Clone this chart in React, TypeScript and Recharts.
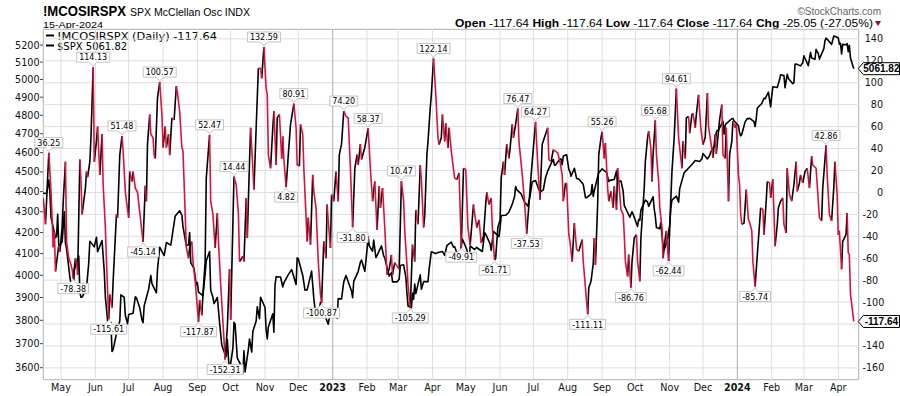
import React from "react";
import {
  ComposedChart,
  Line,
  XAxis,
  YAxis,
  CartesianGrid,
  ReferenceLine,
  ReferenceDot,
} from "recharts";

// McClellan oscillator readings
const osc: [string, number][] = [
  ["2022-04-15", -5], ["2022-04-17", -29], ["2022-04-20", 36.25], ["2022-04-22", 0],
  ["2022-04-24", -50], ["2022-04-25", -36], ["2022-04-26", -72], ["2022-04-29", -48],
  ["2022-04-30", -54], ["2022-05-02", -32], ["2022-05-03", -8], ["2022-05-05", 28],
  ["2022-05-06", -45], ["2022-05-08", -60], ["2022-05-10", -66], ["2022-05-11", -70],
  ["2022-05-12", -78.38], ["2022-05-14", -60], ["2022-05-15", -63], ["2022-05-16", -75],
  ["2022-05-18", 30], ["2022-05-19", 10], ["2022-05-20", -20], ["2022-05-23", 4],
  ["2022-05-24", 19], ["2022-05-25", 14], ["2022-05-27", 28], ["2022-05-28", 50],
  ["2022-05-30", 114.13], ["2022-05-31", 28], ["2022-06-02", 47], ["2022-06-03", 60],
  ["2022-06-05", 16], ["2022-06-06", 34], ["2022-06-07", 53], ["2022-06-08", 7],
  ["2022-06-10", -32], ["2022-06-11", -63], ["2022-06-13", -115.61], ["2022-06-14", -93],
  ["2022-06-16", -105], ["2022-06-17", -81], ["2022-06-20", -20], ["2022-06-21", -23],
  ["2022-06-23", 34], ["2022-06-25", 51.48], ["2022-06-26", 38], ["2022-06-28", 1],
  ["2022-06-29", -8], ["2022-07-01", -23], ["2022-07-02", 19], ["2022-07-04", 10],
  ["2022-07-05", 19], ["2022-07-07", 4], ["2022-07-09", 0], ["2022-07-14", -45.14],
  ["2022-07-16", 6], ["2022-07-17", -8], ["2022-07-18", 44], ["2022-07-20", 71],
  ["2022-07-21", 53], ["2022-07-23", 50], ["2022-07-24", 34], ["2022-07-25", 31],
  ["2022-07-27", 86], ["2022-07-29", 100.57], ["2022-07-31", 71], ["2022-08-01", 41],
  ["2022-08-03", 60], ["2022-08-04", 41], ["2022-08-06", 53], ["2022-08-07", 34],
  ["2022-08-09", 68], ["2022-08-11", 66], ["2022-08-13", 97], ["2022-08-14", 91],
  ["2022-08-16", 74], ["2022-08-18", 41], ["2022-08-19", 38], ["2022-08-21", -20],
  ["2022-08-22", -50], ["2022-08-24", -60], ["2022-08-25", -50], ["2022-08-27", -45],
  ["2022-08-28", -63], ["2022-08-30", -81], ["2022-08-31", -93], ["2022-09-02", -117.87],
  ["2022-09-03", -98], ["2022-09-05", -112], ["2022-09-06", -93], ["2022-09-08", -63],
  ["2022-09-09", 13], ["2022-09-12", 52.47], ["2022-09-13", -8], ["2022-09-15", -20],
  ["2022-09-17", -50.6], ["2022-09-19", -19], ["2022-09-20", -44.6], ["2022-09-22", -84],
  ["2022-09-24", -117.5], ["2022-09-26", -152.31], ["2022-09-28", -123], ["2022-09-30", -70],
  ["2022-10-01", -116], ["2022-10-04", 14.44], ["2022-10-06", 7], ["2022-10-08", -20],
  ["2022-10-09", -63], ["2022-10-11", -60], ["2022-10-12", -58], ["2022-10-13", -63],
  ["2022-10-15", -5], ["2022-10-16", -41.5], ["2022-10-18", 28], ["2022-10-19", 59],
  ["2022-10-21", 22], ["2022-10-22", 2.6], ["2022-10-24", 59], ["2022-10-26", 113.5],
  ["2022-10-28", 113], ["2022-10-29", 104], ["2022-10-31", 132.59], ["2022-11-02", 95],
  ["2022-11-03", 89], ["2022-11-04", 34.5], ["2022-11-06", 22], ["2022-11-08", 59],
  ["2022-11-09", 74], ["2022-11-11", 25], ["2022-11-12", 68], ["2022-11-14", 71],
  ["2022-11-16", 31], ["2022-11-17", 51], ["2022-11-18", 30], ["2022-11-20", 4.82],
  ["2022-11-22", 34.5], ["2022-11-24", 62], ["2022-11-27", 80.91], ["2022-11-29", 59],
  ["2022-11-30", 25], ["2022-12-02", 24], ["2022-12-03", 62], ["2022-12-05", 53],
  ["2022-12-06", 22], ["2022-12-09", -44.6], ["2022-12-10", -23], ["2022-12-12", -47.6],
  ["2022-12-14", 16], ["2022-12-15", 1], ["2022-12-17", -14], ["2022-12-19", -63],
  ["2022-12-21", -93], ["2022-12-22", -100.87], ["2022-12-24", -44.6], ["2022-12-26", -60],
  ["2022-12-27", -11], ["2022-12-28", -26], ["2022-12-30", -50.6], ["2022-12-31", -2],
  ["2023-01-02", -8], ["2023-01-04", 19], ["2023-01-06", -8], ["2023-01-07", 34.5],
  ["2023-01-09", 44], ["2023-01-11", 74.2], ["2023-01-13", 69.4], ["2023-01-15", 68],
  ["2023-01-17", 22], ["2023-01-19", -31.8], ["2023-01-21", 22], ["2023-01-23", 34.5],
  ["2023-01-24", 25], ["2023-01-26", 44], ["2023-01-27", 30], ["2023-01-30", 41],
  ["2023-02-02", 58.37], ["2023-02-04", 22], ["2023-02-06", -8], ["2023-02-08", 10],
  ["2023-02-10", -34], ["2023-02-12", 5.6], ["2023-02-13", -14], ["2023-02-15", 4],
  ["2023-02-17", -32], ["2023-02-19", -75], ["2023-02-21", -70], ["2023-02-23", -57],
  ["2023-02-24", -75], ["2023-02-26", -64], ["2023-02-28", -67], ["2023-03-02", -70],
  ["2023-03-04", 10.47], ["2023-03-06", -8], ["2023-03-07", -35], ["2023-03-09", -66],
  ["2023-03-10", -85], ["2023-03-12", -105.29], ["2023-03-14", -47.6], ["2023-03-16", -63],
  ["2023-03-17", -16], ["2023-03-19", -29], ["2023-03-21", 25], ["2023-03-22", 11.7],
  ["2023-03-24", -32], ["2023-03-25", -22], ["2023-03-27", 34.5], ["2023-03-28", 46.6],
  ["2023-03-30", 77], ["2023-03-31", 89], ["2023-04-02", 122.14], ["2023-04-04", 89],
  ["2023-04-06", 49.7], ["2023-04-07", 43.6], ["2023-04-09", 50], ["2023-04-10", 71],
  ["2023-04-12", 46.6], ["2023-04-13", 63], ["2023-04-15", 40.6], ["2023-04-16", 59],
  ["2023-04-18", 37.5], ["2023-04-21", 13], ["2023-04-23", 11.7], ["2023-04-25", 17.8],
  ["2023-04-27", -49.91], ["2023-04-29", 22], ["2023-05-01", 21], ["2023-05-03", -32],
  ["2023-05-05", -48], ["2023-05-08", -11], ["2023-05-09", -19], ["2023-05-11", -32],
  ["2023-05-13", -25], ["2023-05-15", -46], ["2023-05-17", -40], ["2023-05-19", -11],
  ["2023-05-20", 0], ["2023-05-22", -11], ["2023-05-24", -5], ["2023-05-25", -32],
  ["2023-05-27", -61.71], ["2023-05-28", -60], ["2023-05-30", -32], ["2023-06-01", -25],
  ["2023-06-02", 13], ["2023-06-04", 28], ["2023-06-05", 16], ["2023-06-07", 44],
  ["2023-06-09", 31], ["2023-06-10", 40], ["2023-06-12", 62], ["2023-06-13", 50],
  ["2023-06-15", 62], ["2023-06-17", 76.47], ["2023-06-18", 46.6], ["2023-06-21", 16],
  ["2023-06-22", 4], ["2023-06-23", -8], ["2023-06-25", -37.53], ["2023-06-27", -11],
  ["2023-06-29", 16], ["2023-07-03", 64.27], ["2023-07-05", 25], ["2023-07-07", -6.6],
  ["2023-07-09", 44], ["2023-07-11", 50], ["2023-07-14", 59], ["2023-07-15", 30],
  ["2023-07-17", 28], ["2023-07-19", 39], ["2023-07-21", 37.5], ["2023-07-23", 36],
  ["2023-07-25", 28], ["2023-07-27", 16], ["2023-07-28", -8], ["2023-07-30", 8.6],
  ["2023-07-31", 8], ["2023-08-02", -38.5], ["2023-08-03", -44.6], ["2023-08-05", -63],
  ["2023-08-07", -28], ["2023-08-09", -52], ["2023-08-11", -53.7], ["2023-08-14", -43],
  ["2023-08-15", -63], ["2023-08-17", -87], ["2023-08-19", -111.11], ["2023-08-20", -87],
  ["2023-08-22", -81], ["2023-08-24", -65], ["2023-08-25", -41.5], ["2023-08-26", -66],
  ["2023-08-28", -11], ["2023-08-29", 34.5], ["2023-08-31", 49.7], ["2023-09-01", 55.26],
  ["2023-09-03", 31], ["2023-09-04", 45], ["2023-09-06", 4], ["2023-09-07", -8],
  ["2023-09-09", 1], ["2023-09-11", -14], ["2023-09-12", 5.6], ["2023-09-14", -15.7],
  ["2023-09-15", 22], ["2023-09-16", 11.7], ["2023-09-18", -15.7], ["2023-09-20", -20],
  ["2023-09-21", -38.5], ["2023-09-22", -63], ["2023-09-24", -76.5], ["2023-09-25", -56.7],
  ["2023-09-27", -86.76], ["2023-09-28", -63], ["2023-09-30", -41.5], ["2023-10-02", -38.5],
  ["2023-10-03", -63], ["2023-10-05", -81], ["2023-10-06", -41.5], ["2023-10-09", 4],
  ["2023-10-10", 28], ["2023-10-12", 49.7], ["2023-10-13", 55.8], ["2023-10-15", 40.6],
  ["2023-10-16", 10], ["2023-10-17", 34.5], ["2023-10-19", 65.68], ["2023-10-20", 34.5],
  ["2023-10-22", 10], ["2023-10-23", -14], ["2023-10-25", -32], ["2023-10-26", -60],
  ["2023-10-28", -41.5], ["2023-10-29", -35], ["2023-10-30", -50.6], ["2023-10-31", -62.44],
  ["2023-11-01", -32], ["2023-11-03", 19], ["2023-11-05", 49.7], ["2023-11-07", 94.61],
  ["2023-11-09", 49.7], ["2023-11-10", 40.6], ["2023-11-12", 22], ["2023-11-13", 46.6],
  ["2023-11-15", 31], ["2023-11-16", 68], ["2023-11-18", 69.4], ["2023-11-19", 54],
  ["2023-11-21", 71], ["2023-11-22", 72], ["2023-11-24", 59], ["2023-11-25", 71],
  ["2023-11-27", 89], ["2023-11-29", 59], ["2023-12-01", 43.6], ["2023-12-03", 50],
  ["2023-12-05", 90.7], ["2023-12-06", 60], ["2023-12-08", 46.6], ["2023-12-10", 31.4],
  ["2023-12-12", 53], ["2023-12-13", 35], ["2023-12-16", 66.4], ["2023-12-18", 80],
  ["2023-12-19", 34.5], ["2023-12-21", 31], ["2023-12-22", 59], ["2023-12-24", -8],
  ["2023-12-25", 34.5], ["2023-12-27", 46.6], ["2023-12-28", 65], ["2023-12-30", 59],
  ["2023-12-31", 62], ["2024-01-02", 16], ["2024-01-03", 7], ["2024-01-04", -20],
  ["2024-01-05", -29], ["2024-01-07", -28], ["2024-01-09", 2.6], ["2024-01-11", -25],
  ["2024-01-12", -27], ["2024-01-14", -35], ["2024-01-15", -63], ["2024-01-17", -85.74],
  ["2024-01-19", -56.7], ["2024-01-21", -29], ["2024-01-22", -14], ["2024-01-24", -15.7],
  ["2024-01-25", -38.5], ["2024-01-27", -8], ["2024-01-28", 10], ["2024-01-30", 8.6],
  ["2024-01-31", -5], ["2024-02-02", 12], ["2024-02-04", -49], ["2024-02-06", -29],
  ["2024-02-07", -14], ["2024-02-09", -8], ["2024-02-11", -5], ["2024-02-12", -29],
  ["2024-02-14", -37], ["2024-02-15", 22], ["2024-02-17", -2], ["2024-02-19", -8],
  ["2024-02-21", 7], ["2024-02-23", 28], ["2024-02-24", 1], ["2024-02-26", 8.6],
  ["2024-02-27", 16], ["2024-02-29", 8.6], ["2024-03-02", 19], ["2024-03-04", 22],
  ["2024-03-06", 4], ["2024-03-08", 33], ["2024-03-09", 25], ["2024-03-12", 22],
  ["2024-03-13", 7], ["2024-03-15", -23], ["2024-03-17", -26], ["2024-03-18", 4],
  ["2024-03-21", 42.86], ["2024-03-22", 16], ["2024-03-24", -20], ["2024-03-26", -26],
  ["2024-03-28", 5], ["2024-03-29", 28], ["2024-03-31", -2], ["2024-04-01", -38.5],
  ["2024-04-02", -35], ["2024-04-04", -70], ["2024-04-05", -44.6], ["2024-04-08", -38.5],
  ["2024-04-09", -18.7], ["2024-04-10", -55], ["2024-04-11", -57], ["2024-04-12", -92.59],
  ["2024-04-15", -117.64],
];

// $SPX closes
const spx: [string, number][] = [
  ["2022-04-14", 4392], ["2022-04-18", 4391], ["2022-04-20", 4459], ["2022-04-21", 4393],
  ["2022-04-22", 4272], ["2022-04-26", 4175], ["2022-04-27", 4183], ["2022-04-28", 4288],
  ["2022-04-29", 4132], ["2022-05-02", 4155], ["2022-05-04", 4300], ["2022-05-05", 4147],
  ["2022-05-06", 4123], ["2022-05-09", 3991], ["2022-05-11", 3935], ["2022-05-12", 3930],
  ["2022-05-13", 4024], ["2022-05-17", 4089], ["2022-05-18", 3923], ["2022-05-19", 3901],
  ["2022-05-20", 3901], ["2022-05-24", 3941], ["2022-05-26", 4057], ["2022-05-27", 4158],
  ["2022-05-31", 4132], ["2022-06-02", 4177], ["2022-06-03", 4109], ["2022-06-07", 4161],
  ["2022-06-09", 4018], ["2022-06-10", 3901], ["2022-06-13", 3750], ["2022-06-15", 3790],
  ["2022-06-16", 3667], ["2022-06-17", 3675], ["2022-06-21", 3765], ["2022-06-23", 3796],
  ["2022-06-24", 3912], ["2022-06-27", 3900], ["2022-06-28", 3822], ["2022-06-30", 3785],
  ["2022-07-01", 3825], ["2022-07-05", 3831], ["2022-07-07", 3903], ["2022-07-08", 3899],
  ["2022-07-11", 3855], ["2022-07-13", 3801], ["2022-07-14", 3790], ["2022-07-15", 3863],
  ["2022-07-19", 3937], ["2022-07-21", 3999], ["2022-07-22", 3962], ["2022-07-26", 3921],
  ["2022-07-27", 4024], ["2022-07-29", 4130], ["2022-08-02", 4091], ["2022-08-04", 4152],
  ["2022-08-08", 4140], ["2022-08-10", 4210], ["2022-08-12", 4280], ["2022-08-16", 4305],
  ["2022-08-18", 4284], ["2022-08-19", 4228], ["2022-08-22", 4138], ["2022-08-24", 4141],
  ["2022-08-25", 4199], ["2022-08-26", 4058], ["2022-08-29", 4031], ["2022-08-31", 3955],
  ["2022-09-01", 3967], ["2022-09-02", 3924], ["2022-09-06", 3908], ["2022-09-08", 4006],
  ["2022-09-09", 4067], ["2022-09-12", 4110], ["2022-09-13", 3932], ["2022-09-15", 3901],
  ["2022-09-16", 3873], ["2022-09-19", 3900], ["2022-09-21", 3790], ["2022-09-23", 3693],
  ["2022-09-26", 3655], ["2022-09-27", 3647], ["2022-09-28", 3719], ["2022-09-29", 3640],
  ["2022-09-30", 3586], ["2022-10-03", 3679], ["2022-10-04", 3791], ["2022-10-05", 3783],
  ["2022-10-07", 3640], ["2022-10-10", 3613], ["2022-10-12", 3577], ["2022-10-13", 3670],
  ["2022-10-14", 3583], ["2022-10-17", 3677], ["2022-10-18", 3720], ["2022-10-20", 3665],
  ["2022-10-21", 3752], ["2022-10-24", 3797], ["2022-10-25", 3859], ["2022-10-27", 3807],
  ["2022-10-28", 3901], ["2022-11-01", 3856], ["2022-11-02", 3760], ["2022-11-03", 3720],
  ["2022-11-04", 3771], ["2022-11-08", 3828], ["2022-11-09", 3749], ["2022-11-10", 3956],
  ["2022-11-11", 3993], ["2022-11-15", 3992], ["2022-11-17", 3947], ["2022-11-18", 3965],
  ["2022-11-22", 4003], ["2022-11-25", 4026], ["2022-11-29", 3958], ["2022-11-30", 4080],
  ["2022-12-01", 4076], ["2022-12-05", 3999], ["2022-12-07", 3933], ["2022-12-09", 3934],
  ["2022-12-13", 4019], ["2022-12-15", 3896], ["2022-12-16", 3852], ["2022-12-19", 3817],
  ["2022-12-21", 3879], ["2022-12-22", 3822], ["2022-12-23", 3845], ["2022-12-28", 3783],
  ["2022-12-30", 3840], ["2023-01-03", 3825], ["2023-01-05", 3808], ["2023-01-06", 3895],
  ["2023-01-09", 3893], ["2023-01-11", 3970], ["2023-01-13", 3999], ["2023-01-18", 3929],
  ["2023-01-19", 3899], ["2023-01-20", 3972], ["2023-01-24", 4017], ["2023-01-26", 4060],
  ["2023-01-27", 4070], ["2023-01-30", 4018], ["2023-02-01", 4119], ["2023-02-02", 4180],
  ["2023-02-03", 4136], ["2023-02-06", 4111], ["2023-02-07", 4164], ["2023-02-09", 4082],
  ["2023-02-10", 4090], ["2023-02-14", 4136], ["2023-02-16", 4090], ["2023-02-17", 4079],
  ["2023-02-21", 3997], ["2023-02-23", 4012], ["2023-02-24", 3970], ["2023-02-28", 3970],
  ["2023-03-02", 3982], ["2023-03-03", 4045], ["2023-03-06", 4048], ["2023-03-08", 3992],
  ["2023-03-09", 3919], ["2023-03-10", 3862], ["2023-03-13", 3855], ["2023-03-14", 3920],
  ["2023-03-15", 3892], ["2023-03-16", 3960], ["2023-03-17", 3917], ["2023-03-21", 4002],
  ["2023-03-22", 3937], ["2023-03-24", 3971], ["2023-03-28", 3971], ["2023-03-29", 4028],
  ["2023-03-31", 4109], ["2023-04-04", 4100], ["2023-04-06", 4105], ["2023-04-10", 4110],
  ["2023-04-12", 4092], ["2023-04-14", 4137], ["2023-04-18", 4154], ["2023-04-20", 4130],
  ["2023-04-21", 4133], ["2023-04-25", 4072], ["2023-04-27", 4135], ["2023-04-28", 4169],
  ["2023-05-02", 4119], ["2023-05-04", 4061], ["2023-05-05", 4136], ["2023-05-09", 4119],
  ["2023-05-11", 4130], ["2023-05-12", 4124], ["2023-05-16", 4110], ["2023-05-18", 4198],
  ["2023-05-19", 4192], ["2023-05-23", 4146], ["2023-05-24", 4115], ["2023-05-26", 4205],
  ["2023-05-31", 4180], ["2023-06-01", 4221], ["2023-06-02", 4282], ["2023-06-06", 4283],
  ["2023-06-08", 4293], ["2023-06-09", 4299], ["2023-06-12", 4338], ["2023-06-14", 4373],
  ["2023-06-15", 4426], ["2023-06-16", 4410], ["2023-06-20", 4389], ["2023-06-23", 4348],
  ["2023-06-26", 4328], ["2023-06-28", 4376], ["2023-06-30", 4450], ["2023-07-03", 4456],
  ["2023-07-06", 4411], ["2023-07-07", 4398], ["2023-07-10", 4409], ["2023-07-12", 4472],
  ["2023-07-14", 4505], ["2023-07-18", 4555], ["2023-07-19", 4565], ["2023-07-20", 4535],
  ["2023-07-21", 4536], ["2023-07-25", 4567], ["2023-07-26", 4566], ["2023-07-27", 4537],
  ["2023-07-28", 4582], ["2023-07-31", 4589], ["2023-08-02", 4513], ["2023-08-03", 4502],
  ["2023-08-04", 4478], ["2023-08-07", 4519], ["2023-08-09", 4467], ["2023-08-11", 4464],
  ["2023-08-15", 4437], ["2023-08-17", 4370], ["2023-08-18", 4370], ["2023-08-22", 4388],
  ["2023-08-23", 4436], ["2023-08-24", 4376], ["2023-08-25", 4406], ["2023-08-29", 4497],
  ["2023-08-31", 4508], ["2023-09-01", 4516], ["2023-09-05", 4497], ["2023-09-07", 4451],
  ["2023-09-08", 4457], ["2023-09-12", 4462], ["2023-09-14", 4505], ["2023-09-15", 4450],
  ["2023-09-18", 4454], ["2023-09-20", 4402], ["2023-09-21", 4330], ["2023-09-22", 4320],
  ["2023-09-26", 4274], ["2023-09-28", 4300], ["2023-09-29", 4288], ["2023-10-03", 4229],
  ["2023-10-04", 4263], ["2023-10-05", 4258], ["2023-10-06", 4308], ["2023-10-10", 4358],
  ["2023-10-12", 4349], ["2023-10-13", 4327], ["2023-10-17", 4374], ["2023-10-18", 4314],
  ["2023-10-19", 4278], ["2023-10-20", 4224], ["2023-10-23", 4218], ["2023-10-24", 4248],
  ["2023-10-25", 4186], ["2023-10-26", 4137], ["2023-10-27", 4117], ["2023-10-30", 4167],
  ["2023-11-01", 4237], ["2023-11-02", 4318], ["2023-11-03", 4358], ["2023-11-07", 4378],
  ["2023-11-09", 4347], ["2023-11-10", 4415], ["2023-11-14", 4496], ["2023-11-16", 4508],
  ["2023-11-17", 4514], ["2023-11-21", 4538], ["2023-11-24", 4559], ["2023-11-28", 4554],
  ["2023-11-30", 4568], ["2023-12-01", 4595], ["2023-12-05", 4567], ["2023-12-07", 4585],
  ["2023-12-08", 4604], ["2023-12-12", 4644], ["2023-12-13", 4707], ["2023-12-14", 4719],
  ["2023-12-15", 4719], ["2023-12-19", 4768], ["2023-12-20", 4698], ["2023-12-21", 4746],
  ["2023-12-22", 4755], ["2023-12-27", 4781], ["2023-12-28", 4783], ["2023-12-29", 4770],
  ["2024-01-02", 4743], ["2024-01-03", 4705], ["2024-01-04", 4689], ["2024-01-05", 4697],
  ["2024-01-08", 4764], ["2024-01-10", 4783], ["2024-01-11", 4780], ["2024-01-12", 4784],
  ["2024-01-16", 4766], ["2024-01-17", 4739], ["2024-01-18", 4781], ["2024-01-19", 4840],
  ["2024-01-23", 4865], ["2024-01-25", 4894], ["2024-01-26", 4891], ["2024-01-29", 4928],
  ["2024-01-31", 4846], ["2024-02-01", 4906], ["2024-02-02", 4959], ["2024-02-06", 4954],
  ["2024-02-08", 4998], ["2024-02-09", 5027], ["2024-02-12", 5022], ["2024-02-13", 4953],
  ["2024-02-15", 5030], ["2024-02-16", 5006], ["2024-02-20", 4976], ["2024-02-21", 4982],
  ["2024-02-22", 5087], ["2024-02-23", 5089], ["2024-02-27", 5078], ["2024-02-29", 5096],
  ["2024-03-01", 5137], ["2024-03-05", 5079], ["2024-03-07", 5157], ["2024-03-08", 5124],
  ["2024-03-11", 5117], ["2024-03-12", 5175], ["2024-03-14", 5150], ["2024-03-15", 5117],
  ["2024-03-19", 5179], ["2024-03-20", 5225], ["2024-03-21", 5241], ["2024-03-22", 5234],
  ["2024-03-26", 5204], ["2024-03-28", 5254], ["2024-04-01", 5243], ["2024-04-02", 5205],
  ["2024-04-03", 5211], ["2024-04-04", 5147], ["2024-04-05", 5204], ["2024-04-08", 5202],
  ["2024-04-09", 5209], ["2024-04-10", 5161], ["2024-04-11", 5199], ["2024-04-12", 5123.41],
  ["2024-04-15", 5061.82],
];

// annotated swing highs / lows
const peakDates = [
  "2022-04-20", "2022-05-30", "2022-06-25", "2022-07-29", "2022-09-12", "2022-10-04",
  "2022-10-31", "2022-11-27", "2023-01-11", "2023-02-02", "2023-03-04", "2023-04-02",
  "2023-06-17", "2023-07-03", "2023-09-01", "2023-10-19", "2023-11-07", "2024-03-21",
];
const troughDates = [
  "2022-05-12", "2022-06-13", "2022-07-14", "2022-09-02", "2022-09-26", "2022-11-20",
  "2022-12-22", "2023-01-19", "2023-03-12", "2023-04-27", "2023-05-27", "2023-06-25",
  "2023-08-19", "2023-09-27", "2023-10-31", "2024-01-17",
];

const monthTicks = [
  "2022-05-01", "2022-06-01", "2022-07-01", "2022-08-01", "2022-09-01", "2022-10-01",
  "2022-11-01", "2022-12-01", "2023-01-01", "2023-02-01", "2023-03-01", "2023-04-01",
  "2023-05-01", "2023-06-01", "2023-07-01", "2023-08-01", "2023-09-01", "2023-10-01",
  "2023-11-01", "2023-12-01", "2024-01-01", "2024-02-01", "2024-03-01", "2024-04-01",
];
const yearLines = ["2023-01-01", "2024-01-01"];
const spxTicks = [3600, 3700, 3800, 3900, 4000, 4100, 4200, 4300, 4400, 4500, 4600, 4700, 4800, 4900, 5000, 5100, 5200];
const oscTicks = [-160, -140, -120, -100, -80, -60, -40, -20, 0, 20, 40, 60, 80, 100, 120, 140];
// right-axis labels that sit fully under the last-value tag in the original
const hiddenOscLabels = [-120];
const MONTHS = ["Jan", "Feb", "Mar", "Apr", "May", "Jun", "Jul", "Aug", "Sep", "Oct", "Nov", "Dec"];

const RED = "#e0103c";
const FONT = "'DejaVu Sans', Verdana, sans-serif";
const ARIAL = "'Liberation Sans', Arial, sans-serif";

const t = (s: string) => Date.UTC(+s.slice(0, 4), +s.slice(5, 7) - 1, +s.slice(8, 10));

const oscPts = osc.map(([d, v]) => ({ t: t(d), v }));
const spxPts = spx.map(([d, v]) => ({ t: t(d), v }));

// split the oscillator into falling (red) and rising (black) stretches
function stretches(falling: boolean) {
  const out: { t: number; v: number | null }[] = [];
  const hit = (i: number) => (oscPts[i].v < oscPts[i - 1].v) === falling;
  for (let i = 1; i < oscPts.length; i++) {
    if (!hit(i)) continue;
    if (!(i > 1 && hit(i - 1))) {
      out.push({ t: oscPts[i - 1].t, v: null });
      out.push(oscPts[i - 1]);
    }
    out.push(oscPts[i]);
  }
  return out;
}
const fallPts = stretches(true);
const risePts = stretches(false);

const oscAt = (d: string) => osc.find((p) => p[0] === d)![1];
const notes = [
  ...peakDates.map((d) => ({ d, v: oscAt(d), up: true })),
  ...troughDates.map((d) => ({ d, v: oscAt(d), up: false })),
];

const lastOsc = osc[osc.length - 1];
const lastSpx = spx[spx.length - 1];

const charW = (c: string) => (c === "." ? 2.54 : c === "-" ? 2.89 : 5.09);

function Callout({ cx, cy, text, up }: any) {
  const w = text.split("").reduce((s: number, c: string) => s + charW(c), 0) + 5;
  const L = cx - w / 2;
  const R = cx + w / 2;
  let d: string;
  let ty: number;
  if (up) {
    const B = cy - 5;
    const T = B - 10;
    d = `M${L},${T}H${R}V${B}H${cx + 3.5}L${cx},${cy - 1}L${cx - 3.5},${B}H${L}Z`;
    ty = T + 8.2;
  } else {
    const T = cy + 5;
    const B = T + 10;
    d = `M${L},${T}H${cx - 3.5}L${cx},${cy + 1}L${cx + 3.5},${T}H${R}V${B}H${L}Z`;
    ty = T + 8.2;
  }
  return (
    <g>
      <path d={d} fill="#fff" stroke="#c4c4c4" strokeWidth={1} />
      <text x={cx} y={ty} textAnchor="middle" fontFamily={FONT} fontSize={8} fill="#000">
        {text}
      </text>
    </g>
  );
}

function Tag({ cx, cy, text }: any) {
  const x0 = cx + 4.5;
  const d = `M${x0},${cy}L${x0 + 5},${cy - 6}H899.5V${cy + 6}H${x0 + 5}Z`;
  return (
    <g>
      <path d={d} fill="#fff" stroke="#000" strokeWidth={1} />
      <text x={(x0 + 5 + 899.5) / 2} y={cy + 3.6} textAnchor="middle" fontFamily={ARIAL} fontWeight={700} fontSize={10} fill="#000">
        {text}
      </text>
    </g>
  );
}

function MonthTick({ x, payload }: any) {
  const d = new Date(payload.value);
  const m = d.getUTCMonth();
  const jan = m === 0;
  return (
    <text x={x} y={391} textAnchor="middle" fontFamily={FONT} fontSize={9.6} fontWeight={jan ? 700 : 400} fill="#111">
      {jan ? String(d.getUTCFullYear()) : MONTHS[m]}
    </text>
  );
}

function LeftTick({ y, payload }: any) {
  return (
    <text x={39.5} y={y + 3.5} textAnchor="end" fontFamily={FONT} fontSize={9.6} fill="#111">
      {payload.value}
    </text>
  );
}

function RightTick({ y, payload }: any) {
  const v = payload.value;
  if (hiddenOscLabels.includes(v)) return <g />;
  return (
    <text
      x={v < 0 ? 862.5 : 883}
      y={y + 3.5}
      textAnchor={v < 0 ? "start" : "end"}
      fontFamily={FONT}
      fontSize={9.6}
      fill="#111"
    >
      {v}
    </text>
  );
}

const lineProps = {
  type: "linear" as const,
  dataKey: "v",
  strokeWidth: 1.6,
  strokeLinejoin: "round" as const,
  dot: false,
  activeDot: false,
  isAnimationActive: false,
};

export default function App() {
  return (
    <div style={{ position: "absolute", left: 0, top: 0, width: 900, height: 396, background: "#fff" }}>
      <svg width={900} height={396} style={{ position: "absolute", left: 0, top: 0 }}>
        <text x={43} y={16} fontFamily={ARIAL} fontWeight={700} fontSize={15} textLength={83} lengthAdjust="spacingAndGlyphs">
          !MCOSIRSPX
        </text>
        <text x={130} y={16} fontFamily={ARIAL} fontSize={11} textLength={120} lengthAdjust="spacingAndGlyphs">
          SPX McClellan Osc  INDX
        </text>
        <text x={43} y={27.5} fontFamily={ARIAL} fontSize={9.5} textLength={60} lengthAdjust="spacingAndGlyphs">
          15-Apr-2024
        </text>
        <text x={881} y={15} textAnchor="end" fontFamily={ARIAL} fontSize={10} fill="#666">
          ©StockCharts.com
        </text>
        <text x={455} y={27} fontFamily={ARIAL} fontSize={10.5} textLength={418} lengthAdjust="spacingAndGlyphs">
          <tspan fontWeight={700}>Open</tspan> -117.64 <tspan fontWeight={700}>High</tspan> -117.64{" "}
          <tspan fontWeight={700}>Low</tspan> -117.64 <tspan fontWeight={700}>Close</tspan> -117.64{" "}
          <tspan fontWeight={700}>Chg</tspan> -25.05 (-27.05%)
        </text>
        <path d="M875,21L881,21L878,26Z" fill="#b00020" />
        <rect x={43.5} y={29.5} width={815} height={350} fill="none" stroke="#a0a0a0" />
        <line x1={46} x2={54} y1={35.5} y2={35.5} stroke="#000" strokeWidth={2} />
        <text x={57} y={39.5} fontFamily={FONT} fontSize={10} textLength={160} lengthAdjust="spacingAndGlyphs">
          !MCOSIRSPX (Daily) -117.64
        </text>
        <line x1={46} x2={54} y1={45.5} y2={45.5} stroke="#000" strokeWidth={2} />
        <text x={57} y={49.5} fontFamily={FONT} fontSize={10}>
          $SPX 5061.82
        </text>
      </svg>
      <div style={{ position: "absolute", left: 0, top: 0 }}>
        <ComposedChart width={900} height={396} margin={{ top: 29, right: 0, bottom: 0, left: 0 }}>
          <CartesianGrid yAxisId="osc" stroke="#dedede" />
          <XAxis
            type="number"
            dataKey="t"
            domain={[Date.UTC(2022, 3, 14, 18), Date.UTC(2024, 3, 19, 17)]}
            allowDataOverflow
            ticks={monthTicks.map(t)}
            interval={0}
            tick={<MonthTick />}
            tickLine={false}
            axisLine={false}
            height={16}
          />
          <YAxis
            yAxisId="spx"
            orientation="left"
            scale="log"
            domain={[3550, 5296]}
            allowDataOverflow
            ticks={spxTicks}
            interval={0}
            width={43}
            axisLine={false}
            tickSize={3}
            tickLine={{ stroke: "#444" }}
            tick={<LeftTick />}
          />
          <YAxis
            yAxisId="osc"
            orientation="right"
            domain={[-171, 149]}
            allowDataOverflow
            ticks={oscTicks}
            interval={0}
            width={41}
            axisLine={false}
            tickLine={false}
            tick={<RightTick />}
          />
          {yearLines.map((d) => (
            <ReferenceLine key={d} x={t(d)} yAxisId="osc" stroke="#b4b4b4" />
          ))}
          <Line yAxisId="spx" data={spxPts} stroke="#000" {...lineProps} />
          <Line yAxisId="osc" data={risePts} stroke="#000" connectNulls={false} {...lineProps} />
          <Line yAxisId="osc" data={fallPts} stroke={RED} connectNulls={false} {...lineProps} />
          {notes.map((n) => (
            <ReferenceDot
              key={n.d}
              x={t(n.d)}
              y={n.v}
              yAxisId="osc"
              r={0}
              shape={(p: any) => <Callout cx={p.cx} cy={p.cy} text={n.v.toFixed(2)} up={n.up} />}
            />
          ))}
          <ReferenceDot
            x={t(lastSpx[0])}
            y={lastSpx[1]}
            yAxisId="spx"
            ifOverflow="visible"
            shape={(p: any) => <Tag cx={p.cx} cy={p.cy} text={lastSpx[1].toFixed(2)} />}
          />
          <ReferenceDot
            x={t(lastOsc[0])}
            y={lastOsc[1]}
            yAxisId="osc"
            ifOverflow="visible"
            shape={(p: any) => <Tag cx={p.cx} cy={p.cy} text={lastOsc[1].toFixed(2)} />}
          />
        </ComposedChart>
      </div>
    </div>
  );
}
